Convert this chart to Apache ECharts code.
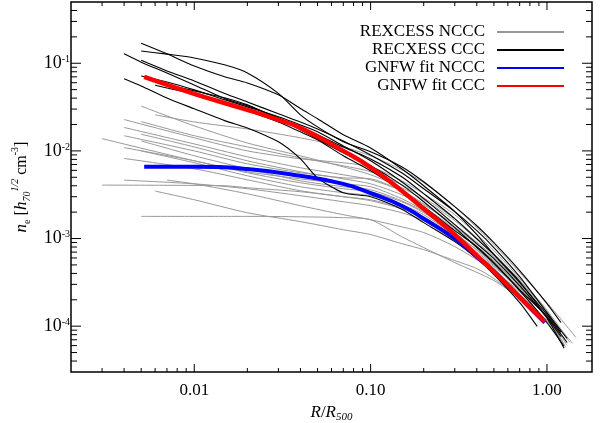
<!DOCTYPE html>
<html>
<head>
<meta charset="utf-8">
<script src="https://cdn.jsdelivr.net/npm/echarts@6/dist/echarts.min.js"></script>
<style>html,body{margin:0;padding:0;background:#fff}#chart{width:611px;height:423px}</style>
</head>
<body>
<div id="chart"></div>
<script>
// ---------- axis ranges & ticks ----------
const X_MIN = 0.002, X_MAX = 1.8;
const Y_MIN = 3e-5, Y_MAX = 0.5;
const xMajorTicks = [0.01, 0.1, 1];
const xMinorTicks = [0.003,0.004,0.005,0.006,0.007,0.008,0.009,0.02,0.03,0.04,0.05,0.06,0.07,0.08,0.09,0.2,0.3,0.4,0.5,0.6,0.7,0.8,0.9];
const yMajorTicks = [1e-4, 1e-3, 1e-2, 1e-1];
const yMinorTicks = [4e-5,5e-5,6e-5,7e-5,8e-5,9e-5,2e-4,3e-4,4e-4,5e-4,6e-4,7e-4,8e-4,9e-4,2e-3,3e-3,4e-3,5e-3,6e-3,7e-3,8e-3,9e-3,0.02,0.03,0.04,0.05,0.06,0.07,0.08,0.09,0.2,0.3,0.4];

// ---------- GNFW fits ----------
const fitCCC = [[0.0052,0.0698],[0.01,0.0448],[0.02,0.0294],[0.03,0.0226],[0.04,0.0183],[0.07,0.0100],[0.1,0.0065],[0.15,0.00351],[0.2,0.00219],[0.3,0.00111],[0.4,0.000638],[0.5,0.00042],[0.7,0.000215],[0.97,0.000113]];
const fitNCCC = [[0.0052,0.0066],[0.01,0.0066],[0.02,0.0062],[0.04,0.0052],[0.07,0.0042],[0.1,0.0033],[0.15,0.00237],[0.2,0.00168],[0.3,0.000998],[0.4,0.000621],[0.5,0.00042],[0.7,0.000212],[0.97,0.00011]];

// ---------- REXCESS cool-core clusters ----------
const ccc1 = [[0.005,0.169],[0.007,0.128],[0.01,0.093],[0.015,0.0697],[0.02,0.0596],[0.03,0.0436],[0.04,0.0304],[0.05,0.0233],[0.07,0.0153],[0.1,0.0108],[0.15,0.00625],[0.2,0.0040],[0.3,0.00203],[0.4,0.00111],[0.5,0.000655],[0.7,0.000315],[1.0,0.000136],[1.2,0.000085]];
const ccc2 = [[0.005,0.138],[0.007,0.127],[0.01,0.115],[0.015,0.0955],[0.02,0.0776],[0.03,0.0453],[0.04,0.0258],[0.05,0.0188],[0.07,0.0127],[0.1,0.0098],[0.15,0.0066],[0.2,0.00444],[0.3,0.00231],[0.4,0.00140],[0.5,0.000898],[0.7,0.000431],[1.0,0.000181],[1.2,0.000110]];
const ccc3 = [[0.004,0.128],[0.005,0.103],[0.007,0.0776],[0.01,0.0566],[0.015,0.0393],[0.02,0.0327],[0.03,0.0239],[0.04,0.0183],[0.05,0.0153],[0.07,0.0111],[0.1,0.0081],[0.15,0.00507],[0.2,0.00325],[0.3,0.00169],[0.4,0.00099],[0.5,0.000655],[0.7,0.000323],[1.0,0.000123],[1.25,0.000056]];
const ccc4 = [[0.005,0.108],[0.007,0.0817],[0.01,0.0628],[0.015,0.0448],[0.02,0.0362],[0.03,0.0265],[0.04,0.0214],[0.05,0.0178],[0.07,0.0130],[0.1,0.0090],[0.15,0.00562],[0.2,0.0037],[0.3,0.00203],[0.4,0.00123],[0.5,0.00079],[0.7,0.000368],[1.0,0.000143],[1.3,0.0000724]];
const ccc5 = [[0.005,0.0716],[0.007,0.0612],[0.01,0.0497],[0.015,0.0382],[0.02,0.0318],[0.03,0.0245],[0.04,0.0198],[0.05,0.0165],[0.07,0.0114],[0.1,0.00771],[0.15,0.00444],[0.2,0.00285],[0.3,0.00144],[0.4,0.000874],[0.5,0.00059],[0.7,0.000291],[1.0,0.000125],[1.2,0.0000763]];
const ccc6 = [[0.006,0.056],[0.007,0.0523],[0.01,0.0448],[0.015,0.0353],[0.02,0.0287],[0.03,0.0214],[0.04,0.0165],[0.05,0.0134],[0.07,0.00879],[0.1,0.00593],[0.15,0.00351],[0.2,0.00231],[0.3,0.00123],[0.4,0.000809],[0.5,0.000531],[0.7,0.000262],[1.0,0.000129],[1.3,0.0000652]];
const ccc7 = [[0.004,0.0667],[0.005,0.0551],[0.007,0.0402],[0.01,0.0302],[0.015,0.0220],[0.02,0.0183],[0.03,0.0127],[0.04,0.00812],[0.05,0.00493],[0.07,0.00333],[0.1,0.0030],[0.15,0.00216],[0.2,0.00152],[0.3,0.000921],[0.4,0.00059],[0.5,0.000388],[0.7,0.000186],[0.88,0.0000994]];
const ccc8 = [[0.008,0.0537],[0.01,0.0484],[0.015,0.0402],[0.02,0.0335],[0.03,0.0232],[0.04,0.0174],[0.05,0.0137],[0.07,0.0095],[0.1,0.00676],[0.15,0.0041],[0.2,0.00263],[0.3,0.00133],[0.4,0.00079],[0.5,0.00052],[0.7,0.000255],[1.0,0.00011],[1.25,0.000059]];

// ---------- REXCESS non-cool-core clusters ----------
const nccc1 = [[0.005,0.0324],[0.01,0.0193],[0.02,0.0123],[0.04,0.00879],[0.07,0.00658],[0.1,0.00534],[0.15,0.0038],[0.2,0.00277],[0.3,0.0016],[0.5,0.000655],[0.7,0.000332],[1.0,0.000151],[1.3,0.0000743]];
const nccc2 = [[0.006,0.0258],[0.01,0.0214],[0.02,0.0178],[0.04,0.0141],[0.07,0.0111],[0.1,0.00879],[0.15,0.00608],[0.2,0.00433],[0.3,0.00231],[0.5,0.000852],[0.7,0.000409],[1.0,0.000186],[1.46,0.0000743]];
const nccc3 = [[0.004,0.0228],[0.01,0.0141],[0.02,0.0100],[0.04,0.00812],[0.07,0.00732],[0.1,0.00658],[0.15,0.00456],[0.2,0.00324],[0.3,0.00187],[0.5,0.000728],[0.7,0.000349],[1.0,0.000151],[1.2,0.0000763]];
const nccc4 = [[0.005,0.0216],[0.01,0.0149],[0.02,0.0111],[0.04,0.00834],[0.07,0.00676],[0.1,0.00578],[0.15,0.00411],[0.2,0.00292],[0.3,0.00168],[0.5,0.000673],[0.7,0.000332],[1.0,0.000143],[1.35,0.0000652]];
const nccc5 = [[0.004,0.0185],[0.01,0.0120],[0.02,0.00856],[0.04,0.00642],[0.07,0.00534],[0.1,0.00468],[0.15,0.00351],[0.2,0.00249],[0.3,0.00136],[0.5,0.00059],[0.7,0.000299],[1.0,0.000129],[1.1,0.0000893]];
const nccc6 = [[0.005,0.0155],[0.01,0.0111],[0.02,0.00771],[0.04,0.00578],[0.07,0.0048],[0.1,0.00421],[0.15,0.00316],[0.2,0.00231],[0.3,0.00129],[0.5,0.00056],[0.7,0.000283],[1.0,0.000129],[1.25,0.0000619]];
const nccc7 = [[0.003,0.0138],[0.01,0.00771],[0.02,0.00578],[0.04,0.0048],[0.07,0.00421],[0.1,0.0039],[0.15,0.00285],[0.2,0.00208],[0.3,0.00117],[0.5,0.000504],[0.7,0.000255],[1.0,0.00011]];
const nccc8 = [[0.004,0.0149],[0.01,0.0100],[0.02,0.00712],[0.04,0.00563],[0.07,0.00493],[0.1,0.0048],[0.15,0.00351],[0.2,0.00243],[0.3,0.00144],[0.5,0.000621],[0.7,0.000307],[1.0,0.000136],[1.3,0.0000603]];
const nccc9 = [[0.005,0.0130],[0.01,0.00879],[0.02,0.00625],[0.04,0.00456],[0.07,0.0039],[0.1,0.0036],[0.15,0.0027],[0.2,0.00203],[0.3,0.00123],[0.5,0.000545],[0.7,0.000276],[1.0,0.000125],[1.15,0.0000804]];
const nccc10 = [[0.004,0.0109],[0.01,0.00771],[0.02,0.00563],[0.04,0.00433],[0.07,0.0037],[0.1,0.00342],[0.15,0.00263],[0.2,0.00197],[0.3,0.00114],[0.5,0.000531],[0.7,0.000291],[1.0,0.000136],[1.4,0.0000635]];
const nccc11 = [[0.005,0.0100],[0.01,0.00732],[0.02,0.0052],[0.04,0.0039],[0.07,0.00333],[0.1,0.00308],[0.15,0.00243],[0.2,0.00187],[0.3,0.00108],[0.5,0.000491],[0.7,0.000262],[1.0,0.000125],[1.2,0.0000687]];
const nccc12 = [[0.004,0.0082],[0.01,0.00625],[0.02,0.00468],[0.04,0.00351],[0.07,0.0030],[0.1,0.00277],[0.15,0.00225],[0.2,0.00173],[0.3,0.000998],[0.5,0.000454],[0.7,0.000236],[1.0,0.000116],[1.05,0.000102]];
const nccc13 = [[0.004,0.00464],[0.01,0.00421],[0.02,0.0037],[0.04,0.00308],[0.07,0.00263],[0.1,0.00237],[0.15,0.00197],[0.2,0.0016],[0.3,0.000946],[0.5,0.000478],[0.7,0.000255],[1.0,0.000125],[1.28,0.0000572]];
const nccc14 = [[0.003,0.00407],[0.007,0.00405],[0.015,0.0040],[0.02,0.0038],[0.04,0.00342],[0.07,0.0030],[0.1,0.0027],[0.15,0.00219],[0.2,0.00177],[0.3,0.00105],[0.5,0.000454],[0.7,0.00023],[1.0,0.000116]];
const nccc15 = [[0.007,0.00464],[0.01,0.00421],[0.02,0.00324],[0.04,0.00237],[0.07,0.00187],[0.1,0.00164],[0.15,0.00136],[0.2,0.00117],[0.3,0.000808],[0.5,0.000431],[0.7,0.000248],[1.0,0.000129],[1.18,0.0000743]];
const nccc16 = [[0.006,0.00348],[0.01,0.00277],[0.02,0.00197],[0.04,0.00156],[0.07,0.00126],[0.1,0.00111],[0.15,0.000874],[0.2,0.000747],[0.3,0.00056],[0.4,0.000454],[0.5,0.000349],[0.7,0.000207],[0.9,0.000125]];
const nccc17 = [[0.005,0.00179],[0.02,0.00179],[0.04,0.00177],[0.07,0.00173],[0.1,0.00164],[0.15,0.00105],[0.2,0.000788],[0.3,0.000531],[0.5,0.000332],[0.7,0.000207],[1.0,0.000116],[1.2,0.000085]];

const legendNames = ['REXCESS NCCC', 'RECXESS CCC', 'GNFW fit NCCC', 'GNFW fit CCC'];
const ncccList = [nccc1,nccc2,nccc3,nccc4,nccc5,nccc6,nccc7,nccc8,nccc9,nccc10,nccc11,nccc12,nccc13,nccc14,nccc15,nccc16,nccc17];
const cccList = [ccc1,ccc2,ccc3,ccc4,ccc5,ccc6,ccc7,ccc8];

// ---------- build chart ----------
const FONT = "'Liberation Serif','DejaVu Serif',serif";
const GRAY = '#989898';
const series = [];
ncccList.forEach(d => series.push({
  type: 'line', name: legendNames[0], data: d, symbol: 'none', smooth: 0.25, silent: true,
  lineStyle: { color: GRAY, width: 1 }, itemStyle: { color: GRAY }, z: 2
}));
cccList.forEach(d => series.push({
  type: 'line', name: legendNames[1], data: d, symbol: 'none', smooth: 0.25, silent: true,
  lineStyle: { color: '#000', width: 1.1 }, itemStyle: { color: '#000' }, z: 3
}));
series.push({ type: 'line', name: legendNames[2], data: fitNCCC, symbol: 'none', smooth: true, silent: true,
  lineStyle: { color: '#0000ff', width: 4 }, itemStyle: { color: '#0000ff' }, z: 4 });
series.push({ type: 'line', name: legendNames[3], data: fitCCC, symbol: 'none', smooth: true, silent: true,
  lineStyle: { color: '#ff0000', width: 4.5 }, itemStyle: { color: '#ff0000' }, z: 5 });

// tick marks on all four sides
const tickData = [];
xMajorTicks.forEach(v => tickData.push([v, Y_MIN, 0]));
xMinorTicks.forEach(v => tickData.push([v, Y_MIN, 1]));
yMajorTicks.forEach(v => tickData.push([X_MIN, v, 2]));
yMinorTicks.forEach(v => tickData.push([X_MIN, v, 3]));
series.push({
  type: 'custom', silent: true, z: 10, data: tickData, encode: { x: 0, y: 1 }, clip: false,
  renderItem: function (params, api) {
    const a = api.value(0), b = api.value(1), kind = api.value(2);
    const st = { stroke: '#000', lineWidth: 1 };
    const ch = [];
    if (kind < 2) {
      const len = kind === 0 ? 8 : 4;
      const pb = api.coord([a, Y_MIN]), pt = api.coord([a, Y_MAX]);
      ch.push({ type: 'line', shape: { x1: pb[0], y1: pb[1], x2: pb[0], y2: pb[1] - len }, style: st });
      ch.push({ type: 'line', shape: { x1: pt[0], y1: pt[1], x2: pt[0], y2: pt[1] + len }, style: st });
    } else {
      const len = kind === 2 ? 10 : 6;
      const pl = api.coord([X_MIN, b]), pr = api.coord([X_MAX, b]);
      ch.push({ type: 'line', shape: { x1: pl[0], y1: pl[1], x2: pl[0] + len, y2: pl[1] }, style: st });
      ch.push({ type: 'line', shape: { x1: pr[0], y1: pr[1], x2: pr[0] - len, y2: pr[1] }, style: st });
    }
    return { type: 'group', children: ch };
  }
});

function isDecade(v) { const l = Math.log10(v); return Math.abs(l - Math.round(l)) < 1e-6; }

const chart = echarts.init(document.getElementById('chart'), null, { renderer: 'canvas' });
chart.setOption({
  animation: false,
  backgroundColor: '#fff',
  grid: { left: 71, top: 2, right: 19, bottom: 51, containLabel: false, outerBoundsMode: 'none',
    show: true, borderColor: '#000', borderWidth: 1.5, backgroundColor: 'transparent' },
  legend: {
    orient: 'vertical', align: 'right', right: 47, top: 23, itemWidth: 67, itemHeight: 2, itemGap: 0, padding: 0,
    icon: 'rect', selectedMode: false,
    textStyle: { fontFamily: FONT, fontSize: 17, lineHeight: 18, height: 18, color: '#000', padding: [0, 7, 0, 0] },
    data: legendNames
  },
  xAxis: {
    type: 'log', logBase: 10, min: X_MIN, max: X_MAX,
    axisLine: { show: false }, axisTick: { show: false }, splitLine: { show: false },
    axisLabel: {
      margin: 10, fontFamily: FONT, fontSize: 17, color: '#000',
      formatter: v => isDecade(v) ? v.toFixed(2) : ''
    },
    name: '{i|R}{n|/}{i|R}{sub|500}', nameLocation: 'middle', nameGap: 19,
    nameTextStyle: {
      fontFamily: FONT, fontSize: 17, color: '#000',
      rich: {
        i: { fontFamily: FONT, fontSize: 17, fontStyle: 'italic', color: '#000', lineHeight: 20 },
        n: { fontFamily: FONT, fontSize: 17, color: '#000', lineHeight: 20 },
        sub: { fontFamily: FONT, fontSize: 11, fontStyle: 'italic', color: '#000', verticalAlign: 'bottom', lineHeight: 12 }
      }
    }
  },
  yAxis: {
    type: 'log', logBase: 10, min: Y_MIN, max: Y_MAX,
    axisLine: { show: false }, axisTick: { show: false }, splitLine: { show: false },
    axisLabel: {
      margin: 1, fontFamily: FONT, color: '#000',
      formatter: v => isDecade(v) ? '{b|10}{s|' + Math.round(Math.log10(v)) + '}' : '',
      rich: {
        b: { fontFamily: FONT, fontSize: 18, color: '#000', lineHeight: 18 },
        s: { fontFamily: FONT, fontSize: 10, color: '#000', verticalAlign: 'top', lineHeight: 12 }
      }
    },
    name: '{i|n}{sub|e} [{i|h}{subi|70}{supi|1/2} cm{sup|-3}]', nameLocation: 'middle', nameRotate: 90, nameGap: 29,
    nameTextStyle: {
      fontFamily: FONT, fontSize: 16, color: '#000',
      rich: {
        i: { fontFamily: FONT, fontSize: 17, fontStyle: 'italic', color: '#000', lineHeight: 22 },
        sub: { fontFamily: FONT, fontSize: 10, color: '#000', verticalAlign: 'bottom', lineHeight: 13 },
        subi: { fontFamily: FONT, fontSize: 10, fontStyle: 'italic', color: '#000', verticalAlign: 'bottom', lineHeight: 13 },
        supi: { fontFamily: FONT, fontSize: 10, fontStyle: 'italic', color: '#000', verticalAlign: 'top', lineHeight: 12 },
        sup: { fontFamily: FONT, fontSize: 10, color: '#000', verticalAlign: 'top', lineHeight: 12 }
      }
    }
  },
  series: series
});
</script>
</body>
</html>
